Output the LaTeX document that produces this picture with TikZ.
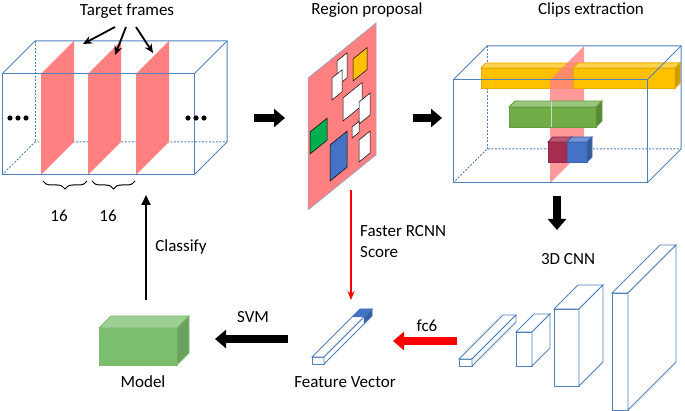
\documentclass[tikz,border=0pt]{standalone}
\usepackage{fontspec}
\setmainfont{Carlito}
\usetikzlibrary{arrows.meta,positioning,decorations.pathreplacing}
\definecolor{boxblue}{RGB}{79,129,189}
\definecolor{framered}{RGB}{255,128,128}
\definecolor{clipyellow}{RGB}{255,192,0}
\definecolor{clipgreen}{RGB}{112,173,71}
\definecolor{clipblue}{RGB}{68,114,196}
\definecolor{clipmaroon}{RGB}{165,45,80}
\definecolor{rpgreen}{RGB}{0,176,80}
\definecolor{modelgreen}{RGB}{125,190,110}
\definecolor{fcred}{RGB}{255,0,0}

% cuboid: front fill, top fill, side fill, outline, x, y, w, h, depth
\newcommand{\drawcuboid}[9]{%
  \filldraw[fill=#1, draw=#4, line width=0.9pt] (#5,#6) rectangle ++(#7,#8);
  \filldraw[fill=#2, draw=#4, line width=0.9pt] (#5,#6) -- ++(#9,-#9) -- ++(#7,0) -- ++(-#9,#9) -- cycle;
  \filldraw[fill=#3, draw=#4, line width=0.9pt] (#5+#7,#6) -- ++(#9,-#9) -- ++(0,#8) -- ++(-#9,#9) -- cycle;
}

\begin{document}
\begin{tikzpicture}[x=1pt, y=-1pt,
    lbl/.style={font=\fontsize{17}{21}\selectfont, align=center, inner sep=0pt},
    wire/.style={draw=boxblue, line width=1pt},
    hidden/.style={wire, dash pattern=on 2pt off 1.5pt},
    slab/.style={fill=framered, draw=none},
    prop/.style={draw=black, line width=0.5pt},
    slim/.style={-{Stealth[length=9pt,width=8pt]}, line width=1.8pt},
    fat/.style={-{Triangle[length=11pt,width=18pt]}, line width=8pt}
  ]
  \useasboundingbox (0,0) rectangle (685,411);

  % Target frames box
  \draw[hidden] (2,175) -- (35,142) -- (227,142);
  \draw[hidden] (35,41) -- (35,142);
  \foreach \fx in {41,88,136}
    \fill[slab] (\fx,175) -- (\fx,74) -- (\fx+33,41) -- (\fx+33,142) -- cycle;
  \draw[wire] (2,74) rectangle (194,175);
  \draw[wire] (2,74) -- (35,41) -- (227,41) -- (227,142) -- (194,175);
  \draw[wire] (194,74) -- (227,41);
  \foreach \dx in {10,18,26,188,196,204}
    \fill (\dx,118) circle (2.6);

  \node[lbl] (tgt) at (127,11) {Target frames};
  \coordinate (tf1s) at (115,27);  \coordinate (tf1) at (83,44);
  \coordinate (tf2s) at (126,27);  \coordinate (tf2) at (115,55);
  \coordinate (tf3s) at (136,27);  \coordinate (tf3) at (153,53);
  \draw[slim] (tf1s) -- (tf1);
  \draw[slim] (tf2s) -- (tf2);
  \draw[slim] (tf3s) -- (tf3);

  % braces
  \draw[line width=1pt, decorate, decoration={brace, amplitude=8pt, mirror}] (43,181) -- (87,181);
  \draw[line width=1pt, decorate, decoration={brace, amplitude=8pt, mirror}] (92,181) -- (135,181);
  \node[lbl] (n1) at (59,216) {16};
  \node[lbl] (n2) at (108,216) {16};

  % Region proposal
  \node[lbl] (rp) at (367,10) {Region proposal};
  \filldraw[fill=framered, draw=boxblue!70, line width=0.5pt]
    (308,78) -- (376,23) -- (376,155) -- (308,210) -- cycle;
  \foreach \lx/\rx/\ty/\h/\c in {337/347/61/25/white, 332/342/78/22/white,
      353/367/59/22/clipyellow, 343/362/98/23/white, 359/370/102/22/white,
      352/359/127/11/white, 310/327/132/22/rpgreen, 330/347/145/36/clipblue,
      359/370/140/22/white} {
    \pgfmathsetmacro{\ry}{\ty-0.81*(\rx-\lx)}
    \filldraw[prop, fill=\c] (\lx,\ty) -- (\rx,\ry) -- (\rx,\ry+\h) -- (\lx,\ty+\h) -- cycle;
  }

  % Clips extraction box
  \node[lbl] (clip) at (591,10) {Clips extraction};
  \draw[hidden] (453,183) -- (487,149) -- (681,149);
  \draw[hidden] (487,46) -- (487,149);
  \drawcuboid{clipyellow}{clipyellow!70!white}{clipyellow!80!black}{clipyellow!90!black}{481}{68}{194}{20}{5}
  \fill[framered, opacity=0.8] (550,183) -- (550,80) -- (584,46) -- (584,149) -- cycle;
  \drawcuboid{clipyellow}{clipyellow!70!white}{clipyellow!80!black}{clipyellow!90!black}{573}{68}{102}{20}{5}
  \drawcuboid{clipgreen}{clipgreen!70!white}{clipgreen!80!black}{clipgreen!90!black}{509}{107}{87}{20}{6}
  \draw[clipgreen!40!white, line width=1pt] (551,101) -- (551,127);
  \drawcuboid{clipmaroon}{clipmaroon!80!white}{clipmaroon!80!black}{clipmaroon!90!black}{548}{142}{19}{20}{5}
  \drawcuboid{clipblue}{clipblue!75!white}{clipblue!80!black}{clipblue!90!black}{567}{142}{20}{20}{5}
  \draw[wire] (453,80) rectangle (647,183);
  \draw[wire] (453,80) -- (487,46) -- (681,46) -- (681,149) -- (647,183);
  \draw[wire] (647,80) -- (681,46);

  % panel arrows
  \coordinate (a1s) at (254,118);  \coordinate (a1e) at (285,118);
  \coordinate (a2s) at (413,118);  \coordinate (a2e) at (442,118);
  \coordinate (a3s) at (557,196);  \coordinate (a3e) at (557,230);
  \draw[fat] (a1s) -- (a1e);
  \draw[fat] (a2s) -- (a2e);
  \draw[fat] (a3s) -- (a3e);

  % 3D CNN
  \node[lbl] (cnn) at (568,259) {3D CNN};
  \drawcuboid{white}{white}{white}{boxblue}{459}{359}{13}{7}{44}
  \drawcuboid{white}{white}{white}{boxblue}{516}{332}{16}{34}{18}
  \drawcuboid{white}{white}{white}{boxblue}{554}{309}{25}{77}{24}
  \drawcuboid{white}{white}{white}{boxblue}{612}{293}{16}{117}{48}

  % Feature vector
  \drawcuboid{white}{white}{white}{boxblue}{312}{357}{12}{7}{48}
  \filldraw[fill=clipblue, draw=boxblue] (352,317) -- (360,309) -- (372,309) -- (364,317) -- cycle;
  \filldraw[fill=clipblue!85!black, draw=boxblue] (364,317) -- (372,309) -- (372,316) -- (364,324) -- cycle;
  \node[lbl] (fv) at (345,382) {Feature Vector};

  \coordinate (rcs) at (351,190);  \coordinate (rce) at (351,300);
  \draw[-{Stealth[length=9pt,width=7pt]}, fcred, line width=1.3pt] (rcs) -- (rce);
  \node[lbl, anchor=north west, align=left] (rcnn) at (360,225) {Faster RCNN\\Score};

  \coordinate (fcs) at (457,341);  \coordinate (fce) at (393,341);
  \draw[fat, fcred] (fcs) -- (fce);
  \node[lbl] (fc) at (427,326) {fc6};

  % Model
  \drawcuboid{modelgreen}{modelgreen!75!white}{modelgreen!85!black}{modelgreen}{99}{328}{78}{37}{12}
  \node[lbl] (mdl) at (143,382) {Model};

  \coordinate (svs) at (288,339);  \coordinate (sve) at (215,339);
  \draw[fat] (svs) -- (sve);
  \node[lbl] (svm) at (253,317) {SVM};

  \coordinate (cls) at (146,300);  \coordinate (cle) at (146,195);
  \draw[-{Triangle[length=10pt,width=9pt]}, line width=2pt] (cls) -- (cle);
  \node[lbl] (clf) at (181,247) {Classify};
\end{tikzpicture}
\end{document}
